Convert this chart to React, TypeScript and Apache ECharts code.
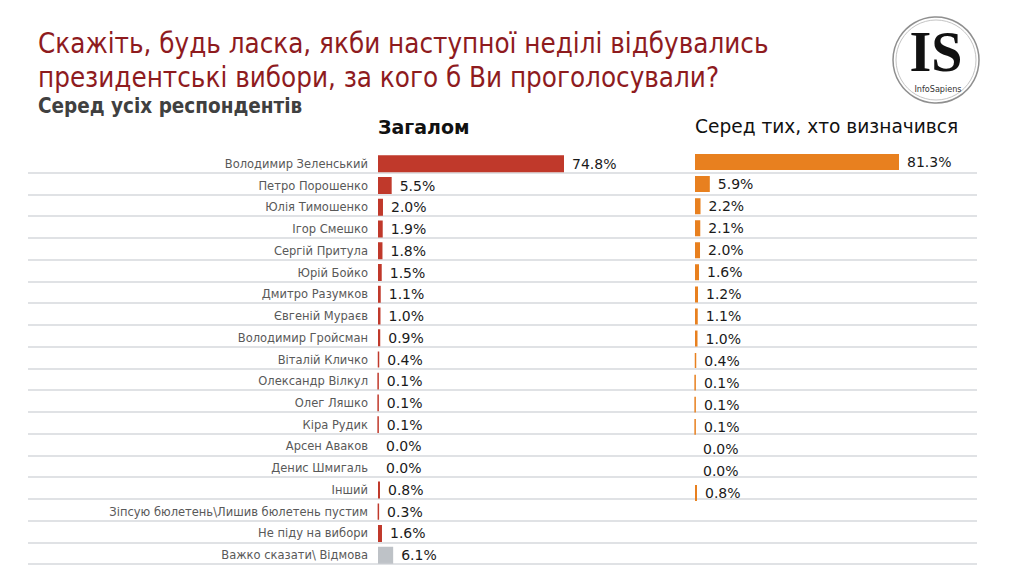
import React, { useEffect, useRef } from "react";
import * as echarts from "echarts";

const categories = [
  "Володимир Зеленський",
  "Петро Порошенко",
  "Юлія Тимошенко",
  "Ігор Смешко",
  "Сергій Притула",
  "Юрій Бойко",
  "Дмитро Разумков",
  "Євгеній Мураєв",
  "Володимир Гройсман",
  "Віталій Кличко",
  "Олександр Вілкул",
  "Олег Ляшко",
  "Кіра Рудик",
  "Арсен Аваков",
  "Денис Шмигаль",
  "Інший",
  "Зіпсую бюлетень\\Лишив бюлетень пустим",
  "Не піду на вибори",
  "Важко сказати\\ Відмова",
];

const totalValues = [74.8, 5.5, 2.0, 1.9, 1.8, 1.5, 1.1, 1.0, 0.9, 0.4, 0.1, 0.1, 0.1, 0.0, 0.0, 0.8, 0.3, 1.6, 6.1];

const decidedCategories = categories.slice(0, 16);
const decidedValues = [81.3, 5.9, 2.2, 2.1, 2.0, 1.6, 1.2, 1.1, 1.0, 0.4, 0.1, 0.1, 0.1, 0.0, 0.0, 0.8];

const titleLines = [
  "Скажіть, будь ласка, якби наступної неділі відбувались",
  "президентські вибори, за кого б Ви проголосували?",
];
const subtitle = "Серед усіх респондентів";
const leftHeader = "Загалом";
const rightHeader = "Серед тих, хто визначився";

const RED = "#C0392B";
const GRAY = "#BEC2C7";
const ORANGE = "#E8801F";

export default function App() {
  const ref = useRef<HTMLDivElement>(null);

  useEffect(() => {
    if (!ref.current) return;
    const chart = echarts.init(ref.current, undefined, { renderer: "svg" });

    const leftScale = 186 / 74.8; // px per percent
    const leftWidth = 977 - 378;
    const leftMax = leftWidth / leftScale;
    const rightScale = 204 / 81.3;
    const rightWidth = 250;
    const rightMax = rightWidth / rightScale;

    const labelStyle = {
      show: true,
      position: "right",
      distance: 8,
      fontFamily: "DejaVu Sans",
      fontSize: 14,
      color: "#1a1a1a",
      formatter: (p: any) => Number(p.value).toFixed(1) + "%",
    };

    const option: any = {
      animation: false,
      backgroundColor: "#ffffff",
      grid: [
        { left: 28, top: 151, width: 977 - 28, height: 413 },
        { left: 378, top: 153, width: leftWidth, height: 413 },
        { left: 695, top: 151, width: rightWidth, height: 353 },
      ],
      xAxis: [
        { type: "value", gridIndex: 0, min: 0, max: 1, show: false, splitLine: { show: false } },
        { type: "value", gridIndex: 1, min: 0, max: leftMax, show: false, splitLine: { show: false } },
        { type: "value", gridIndex: 2, min: 0, max: rightMax, show: false, splitLine: { show: false } },
      ],
      yAxis: [
        {
          type: "category",
          gridIndex: 0,
          inverse: true,
          data: categories,
          axisLine: { show: false },
          axisTick: { show: false },
          axisLabel: { show: false },
          splitLine: {
            show: true,
            showMinLine: false,
            lineStyle: { color: "#D6D8DC", width: 1.5 },
          },
        },
        {
          type: "category",
          gridIndex: 1,
          inverse: true,
          data: categories,
          axisLine: { show: false },
          axisTick: { show: false },
          axisLabel: {
            show: true,
            margin: 10,
            fontFamily: "DejaVu Sans",
            fontSize: 11.5,
            color: "#595959",
          },
          splitLine: { show: false },
        },
        {
          type: "category",
          gridIndex: 2,
          inverse: true,
          data: decidedCategories,
          show: false,
          splitLine: { show: false },
        },
      ],
      series: [
        {
          type: "bar",
          xAxisIndex: 1,
          yAxisIndex: 1,
          barWidth: 17,
          data: totalValues.map((v, i) => {
            const c = i === totalValues.length - 1 ? GRAY : RED;
            return {
              value: v,
              itemStyle: { color: c, borderColor: c, borderWidth: v > 0 ? 1.5 : 0 },
            };
          }),
          label: labelStyle,
        },
        {
          type: "bar",
          xAxisIndex: 2,
          yAxisIndex: 2,
          barWidth: 16,
          data: decidedValues.map((v) => ({
            value: v,
            itemStyle: { color: ORANGE, borderColor: ORANGE, borderWidth: v > 0 ? 1.5 : 0 },
          })),
          label: labelStyle,
        },
      ],
      graphic: [
        {
          type: "text",
          left: 38,
          top: 26,
          style: {
            text: titleLines.join("\n"),
            fontFamily: "'Liberation Sans Narrow', 'DejaVu Sans Condensed', 'Roboto', sans-serif",
            fontSize: 27.5,
            lineHeight: 34,
            fill: "#8E1B1E",
          },
        },
        {
          type: "text",
          left: 38,
          top: 95,
          style: {
            text: subtitle,
            fontFamily: "'Liberation Sans Narrow', 'DejaVu Sans Condensed', 'Roboto', sans-serif",
            fontSize: 20.5,
            fontWeight: "bold",
            fill: "#404040",
          },
        },
        {
          type: "text",
          left: 378,
          top: 117,
          style: {
            text: leftHeader,
            fontFamily: "DejaVu Sans",
            fontSize: 19,
            fontWeight: "bold",
            fill: "#111111",
          },
        },
        {
          type: "text",
          left: 695,
          top: 117,
          style: {
            text: rightHeader,
            fontFamily: "DejaVu Sans",
            fontSize: 18.6,
            fill: "#111111",
          },
        },
        {
          type: "circle",
          shape: { cx: 936, cy: 60, r: 43 },
          style: { fill: "none", stroke: "#8f8f8f", lineWidth: 1.5 },
        },
        {
          type: "circle",
          shape: { cx: 936, cy: 60, r: 40 },
          style: { fill: "none", stroke: "#c4c4c4", lineWidth: 1 },
        },
        {
          type: "text",
          x: 936,
          y: 52,
          style: {
            text: "IS",
            fontFamily: "'Liberation Serif', 'DejaVu Serif', serif",
            fontSize: 56,
            fontWeight: "bold",
            fill: "#111111",
            align: "center",
            verticalAlign: "middle",
          },
        },
        {
          type: "text",
          x: 938,
          y: 89,
          style: {
            text: "InfoSapiens",
            fontFamily: "'DejaVu Sans Condensed', 'DejaVu Sans', sans-serif",
            fontSize: 9,
            fill: "#333333",
            align: "center",
            verticalAlign: "middle",
          },
        },
      ],
    };

    chart.setOption(option);
    return () => chart.dispose();
  }, []);

  return (
    <div
      ref={ref}
      style={{ position: "fixed", left: 0, top: 0, width: 1030, height: 580, background: "#fff" }}
    />
  );
}
